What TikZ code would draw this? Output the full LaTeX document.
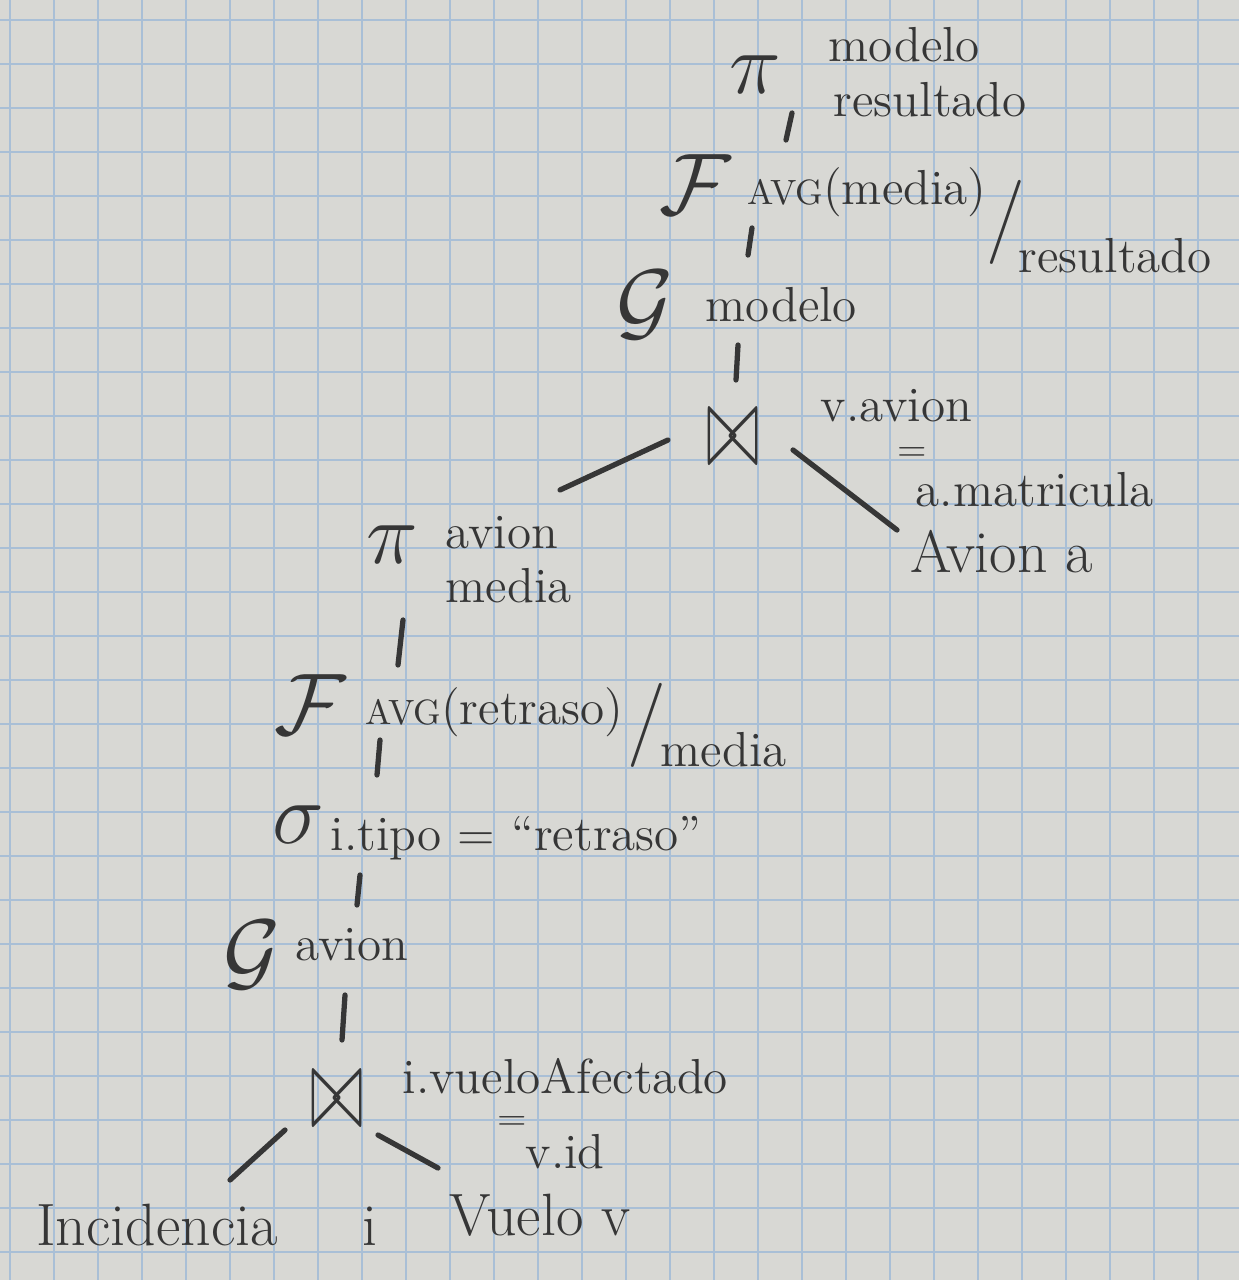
\documentclass[tikz,border=0pt]{standalone}
\usepackage{amsmath}
\usetikzlibrary{positioning, calc}

\definecolor{paper}{HTML}{D8D8D4}
\definecolor{gridblue}{HTML}{A9BFD6}
\definecolor{ink}{HTML}{363636}

\begin{document}
\begin{tikzpicture}[x=1cm, y=-1cm, inner sep=0pt, text=ink,
    op/.style={font=\fontsize{32}{36}\selectfont},
    bigop/.style={font=\fontsize{40}{44}\selectfont},
    attr/.style={anchor=west, font=\fontsize{14}{16}\selectfont},
    eqsign/.style={font=\fontsize{11}{12}\selectfont},
    rel/.style={font=\fontsize{17}{20}\selectfont},
    bar/.style={font=\fontsize{24}{28}\selectfont},
    link/.style={draw=ink, line width=1.5pt, line cap=round}]

    % squared paper
    \useasboundingbox (0,0) rectangle (12.39,12.80);
    \fill[paper] (0,0) rectangle (12.39,12.80);
    \foreach \gx in {0.10,0.54,...,12.39}
        \draw[gridblue, line width=0.7pt] (\gx,0) -- (\gx,12.80);
    \foreach \gy in {0.20,0.64,...,12.80}
        \draw[gridblue, line width=0.7pt] (0,\gy) -- (12.39,\gy);

    % upper part
    \node[bigop] (pi1) at (7.55,0.75) {$\pi$};
    \node[attr] (pi1a) at (8.28,0.45) {modelo};
    \node[attr] (pi1b) at (8.33,1.00) {resultado};
    \node[op] (f1) at (6.95,1.85) {$\mathcal{F}$};
    \node[attr] (f1s) at (7.47,1.92) {{\fontsize{10}{12}\selectfont AVG}(media)};
    \node[bar] (f1b) at (10.06,2.22) {/};
    \node[attr] (f1r) at (10.18,2.56) {resultado};
    \node[op] (g1) at (6.45,3.05) {$\mathcal{G}$};
    \node[attr] (g1s) at (7.05,3.05) {modelo};
    \node[op] (j1) at (7.33,4.38) {\scalebox{0.75}[1.35]{$\bowtie$}};
    \node[attr] (j1a) at (8.20,4.06) {v.avion};
    \node[eqsign] (j1e) at (9.12,4.55) {=};
    \node[attr] (j1b) at (9.15,4.90) {a.matricula};
    \node[rel] (avion) at (10.02,5.52) {Avion a};

    % lower part
    \node[bigop] (pi2) at (3.92,5.45) {$\pi$};
    \node[attr] (pi2a) at (4.45,5.33) {avion};
    \node[attr] (pi2b) at (4.45,5.86) {media};
    \node[op] (f2) at (3.10,7.05) {$\mathcal{F}$};
    \node[attr] (f2s) at (3.65,7.12) {{\fontsize{10}{12}\selectfont AVG}(retraso)};
    \node[bar] (f2b) at (6.47,7.25) {/};
    \node[attr] (f2r) at (6.60,7.50) {media};
    \node[op] (sg) at (2.98,8.25) {$\sigma$};
    \node[attr] (sgs) at (3.30,8.38) {i.tipo = ``retraso''};
    \node[op] (g2) at (2.52,9.55) {$\mathcal{G}$};
    \node[attr] (g2s) at (2.95,9.45) {avion};
    \node[op] (j2) at (3.37,11.00) {\scalebox{0.75}[1.35]{$\bowtie$}};
    \node[attr] (j2a) at (4.02,10.76) {i.vueloAfectado};
    \node[eqsign] (j2e) at (5.12,11.24) {=};
    \node[attr] (j2b) at (5.25,11.52) {v.id};
    \node[rel] (inc) at (2.07,12.25) {Incidencia\hspace{0.85cm}i};
    \node[rel] (vuelo) at (5.40,12.15) {Vuelo v};

    % ends of the short strokes
    \coordinate (pi1-o) at (7.92,1.13);
    \coordinate (f1-i) at (7.86,1.40);
    \coordinate (f1-o) at (7.52,2.28);
    \coordinate (g1-i) at (7.48,2.55);
    \coordinate (g1-o) at (7.38,3.45);
    \coordinate (j1-i) at (7.36,3.80);
    \coordinate (j1-l) at (6.68,4.40);
    \coordinate (pi2-i) at (5.60,4.90);
    \coordinate (j1-r) at (7.93,4.50);
    \coordinate (avion-i) at (8.97,5.30);
    \coordinate (pi2-o) at (4.03,6.20);
    \coordinate (f2-i) at (3.98,6.65);
    \coordinate (f2-o) at (3.80,7.40);
    \coordinate (sg-i) at (3.77,7.75);
    \coordinate (sg-o) at (3.60,8.75);
    \coordinate (g2-i) at (3.57,9.05);
    \coordinate (g2-o) at (3.45,9.95);
    \coordinate (j2-i) at (3.42,10.40);
    \coordinate (j2-l) at (2.85,11.30);
    \coordinate (inc-i) at (2.30,11.80);
    \coordinate (j2-r) at (3.78,11.35);
    \coordinate (vuelo-i) at (4.38,11.68);

    \path[link]
    (pi1-o) edge (f1-i)
    (f1-o) edge (g1-i)
    (g1-o) edge (j1-i)
        (j1-l) edge (pi2-i)
        (j1-r) edge (avion-i)
    (pi2-o) edge (f2-i)
    (f2-o) edge (sg-i)
    (sg-o) edge (g2-i)
    (g2-o) edge (j2-i)
        (j2-l) edge (inc-i)
        (j2-r) edge (vuelo-i);
\end{tikzpicture}
\end{document}
